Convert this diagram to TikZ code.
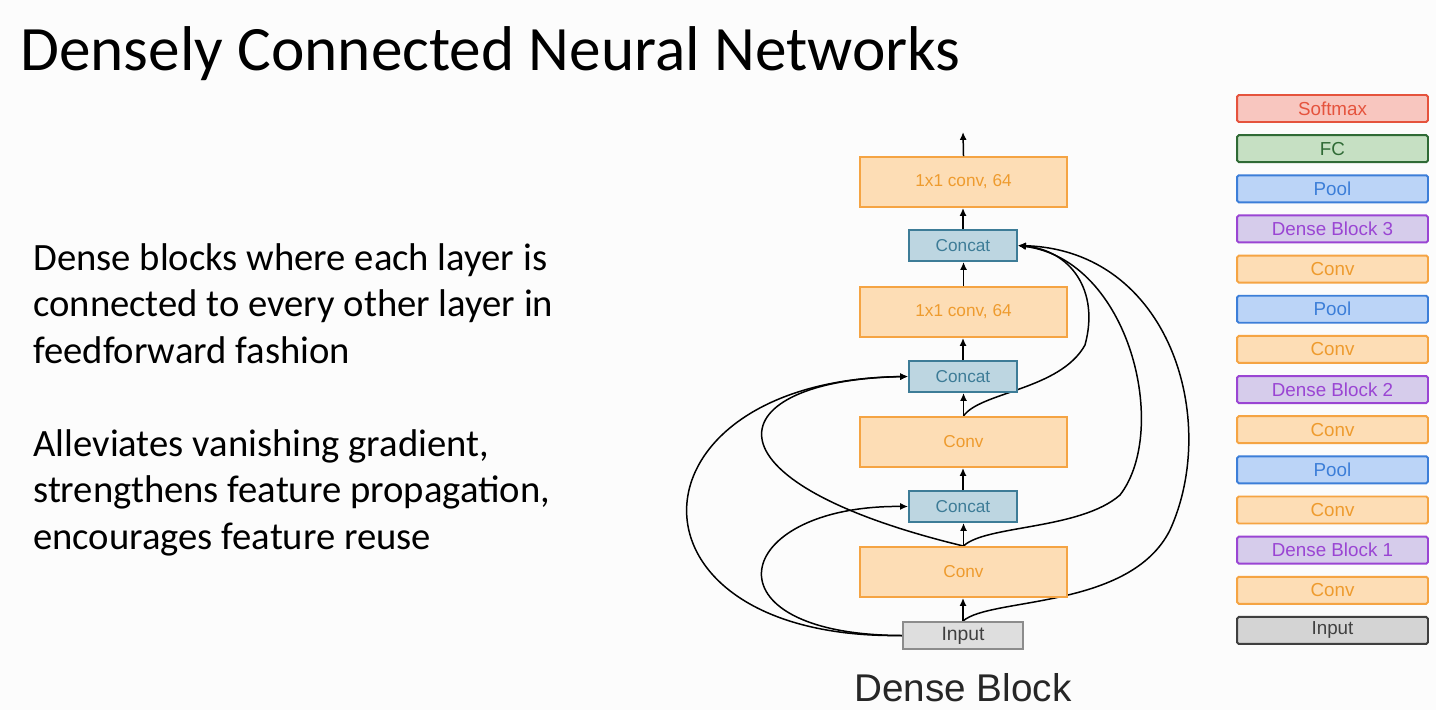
\documentclass[tikz,border=0pt]{standalone}
\usepackage{fontspec}
\setmainfont{Carlito}
\newfontfamily\helv{Liberation Sans}
\usetikzlibrary{arrows.meta,positioning,backgrounds}

\definecolor{convfill}{HTML}{FDDDB5}
\definecolor{convdraw}{HTML}{F5A443}
\definecolor{convtext}{HTML}{EE9B2E}
\definecolor{catfill}{HTML}{BDD6E1}
\definecolor{catdraw}{HTML}{3D7C97}
\definecolor{infill}{HTML}{DEDEDE}
\definecolor{indraw}{HTML}{8C8C8C}
\definecolor{intext}{HTML}{404040}
\definecolor{smfill}{HTML}{F8C6BF}
\definecolor{smdraw}{HTML}{E5533D}
\definecolor{fcfill}{HTML}{C6E0C3}
\definecolor{fcdraw}{HTML}{2F6A35}
\definecolor{poolfill}{HTML}{BBD4F7}
\definecolor{pooldraw}{HTML}{3C7ED8}
\definecolor{dbfill}{HTML}{D6CCEB}
\definecolor{dbdraw}{HTML}{9A45D3}
\definecolor{rinfill}{HTML}{D4D4D4}
\definecolor{rindraw}{HTML}{3F3F3F}
\definecolor{slidebg}{HTML}{FCFCFC}

\begin{document}
\begin{tikzpicture}[
  x=0.02cm, y=-0.02cm,
  >={Latex[length=4.5pt,width=4pt]},
  every node/.style={font=\helv\fontsize{9.8}{11}\selectfont, inner sep=0pt},
  convnode/.style={draw=convdraw, fill=convfill, text=convtext, line width=1.1pt, minimum width=4.14cm, minimum height=1cm},
  concatnode/.style={draw=catdraw, fill=catfill, text=catdraw, line width=1.1pt, minimum width=2.16cm, minimum height=0.62cm},
  inputnode/.style={draw=indraw, fill=infill, text=intext, line width=1.1pt, minimum width=2.4cm, minimum height=0.54cm, font=\helv\fontsize{11}{12}\selectfont},
  layerbox/.style={rounded corners=1pt, line width=1.1pt, minimum width=3.82cm, minimum height=0.54cm, font=\helv\fontsize{10.7}{12}\selectfont},
  softmaxbox/.style={layerbox, draw=smdraw, fill=smfill, text=smdraw},
  fcbox/.style={layerbox, draw=fcdraw, fill=fcfill, text=fcdraw},
  poolbox/.style={layerbox, draw=pooldraw, fill=poolfill, text=pooldraw},
  denseblockbox/.style={layerbox, draw=dbdraw, fill=dbfill, text=dbdraw},
  convbox/.style={layerbox, draw=convdraw, fill=convfill, text=convtext},
  inputbox/.style={layerbox, draw=rindraw, fill=rinfill, text=intext},
  link/.style={->, line width=0.85pt},
]
\useasboundingbox (0,0) rectangle (1436,710);

% Title and text
\node[font=\rmfamily\fontsize{36}{40}\selectfont, anchor=base west] (title) at (20,70) {Densely Connected Neural Networks};
\node[font=\rmfamily\fontsize{22}{26.5}\selectfont, align=left, anchor=north west] (para1) at (33,243)
  {Dense blocks where each layer is\\connected to every other layer in\\feedforward fashion};
\node[font=\rmfamily\fontsize{22}{26.5}\selectfont, align=left, anchor=north west] (para2) at (33,429)
  {Alleviates vanishing gradient,\\strengthens feature propagation,\\encourages feature reuse};

% Dense block
\node[inputnode]  (inp)   at (963,635.5) {Input};
\node[convnode]   (convA) at (963.5,572) {Conv};
\node[concatnode] (catA)  at (963,506.5) {Concat};
\node[convnode]   (convB) at (963.5,442) {Conv};
\node[concatnode] (catB)  at (963,376.5) {Concat};
\node[convnode]   (convC) at (963.5,312) {1x1 conv, 64};
\node[concatnode] (catC)  at (963,245.5) {Concat};
\node[convnode]   (convD) at (963.5,182) {1x1 conv, 64};
\coordinate (out) at (963,132);
\node[font=\helv\fontsize{22}{26}\selectfont, text=black!85] (dblabel) at (963,688) {Dense Block};

% Straight arrows
\draw[link] (inp.north) -- (inp.north |- convA.south);
\draw[link] (convA.north) -- (convA.north |- catA.south);
\draw[link] (catA.north) -- (catA.north |- convB.south);
\draw[link] (convB.north) -- (convB.north |- catB.south);
\draw[link] (catB.north) -- (catB.north |- convC.south);
\draw[link] (convC.north) -- (convC.north |- catC.south);
\draw[link] (catC.north) -- (catC.north |- convD.south);
\draw[link] (convD.north) -- (out);

% Dense connections
\begin{scope}[on background layer]
\fill[slidebg] (0,0) rectangle (1436,710);
\draw[link] (inp.west) .. controls (700,635) and (730,505) .. (catA.west);
\draw[link] (inp.west) .. controls (610,640) and (620,380) .. (catB.west);
\draw[link] (convA.north) .. controls (690,480) and (720,380) .. (catB.west);
\draw[link] (inp.north) .. controls (990,597) and (1130,610) .. (1170,530)
  .. controls (1220,420) and (1170,250) .. (catC.east);
\draw[link] (convA.north) .. controls (985,525) and (1080,530) .. (1120,495)
  .. controls (1170,430) and (1130,260) .. (catC.east);
\draw[link] (convB.north) .. controls (980,392) and (1060,390) .. (1085,345)
  .. controls (1100,290) and (1070,250) .. (catC.east);
\end{scope}

% Whole network
\foreach \i/\sty/\lbl in {1/softmaxbox/Softmax, 2/fcbox/FC, 3/poolbox/Pool, 4/denseblockbox/Dense Block 3,
  5/convbox/Conv, 6/poolbox/Pool, 7/convbox/Conv, 8/denseblockbox/Dense Block 2, 9/convbox/Conv,
  10/poolbox/Pool, 11/convbox/Conv, 12/denseblockbox/Dense Block 1, 13/convbox/Conv, 14/inputbox/Input}
  \node[\sty] (layer\i) at (1332.5,{108.5+(\i-1)*40.15}) {\lbl};

\end{tikzpicture}
\end{document}
